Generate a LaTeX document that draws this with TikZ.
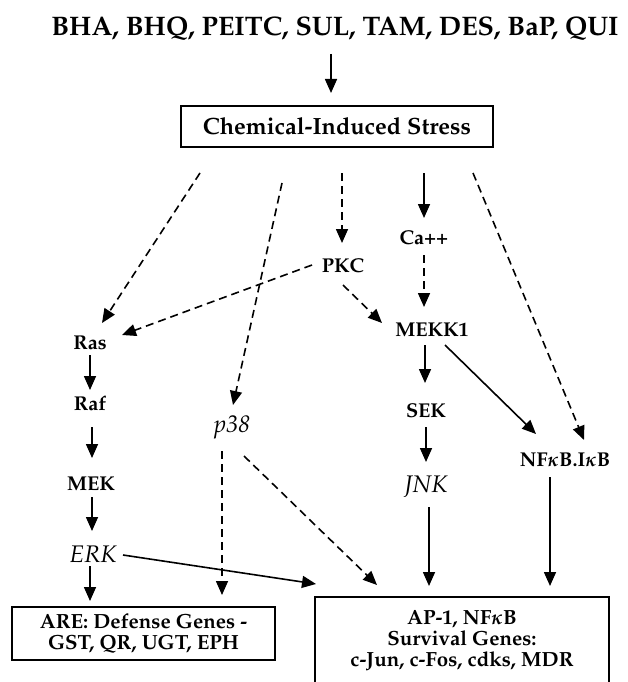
\documentclass[tikz,border=0pt]{standalone}
\usepackage[T1]{fontenc}
\usepackage{mathpazo}
\usepackage{bm}
\usetikzlibrary{arrows.meta,calc}
\newcommand{\kap}{\ensuremath{\bm{\kappa}}}
\begin{document}
\begin{tikzpicture}[x=1pt,y=-1pt,
  lbl/.style={font=\fontsize{20}{22}\selectfont\bfseries, inner sep=0pt},
  ilbl/.style={font=\fontsize{24}{26}\selectfont\itshape, inner sep=0pt},
  boxnode/.style={draw, line width=1.4pt, inner sep=0pt, align=center},
  arr/.style={line width=1.6pt, -{Triangle[length=14pt,width=12pt]}},
  darr/.style={arr, dash pattern=on 8pt off 5pt}
]
\useasboundingbox (0,0) rectangle (627,682);
% nodes
\node[font=\fontsize{26.8}{30}\selectfont\bfseries, inner sep=0pt] (T) at (335,29) {BHA, BHQ, PEITC, SUL, TAM, DES, BaP, QUI};
\node[boxnode, minimum width=312pt, minimum height=41pt, font=\fontsize{23.5}{26}\selectfont\bfseries] (C) at (337,126.5) {Chemical-Induced Stress};
\node[lbl] (Ca) at (424,238) {Ca++};
\node[lbl] (PKC) at (343,266) {PKC};
\node[lbl] (Ras) at (90,343) {Ras};
\node[lbl] (Raf) at (90,403) {Raf};
\node[lbl] (MEK) at (91,484) {MEK};
\node[ilbl] (ERK) at (93,554) {ERK};
\node[ilbl] (p38) at (232,427) {p38};
\node[lbl] (MEKK1) at (432,330) {MEKK1};
\node[lbl] (SEK) at (426,411) {SEK};
\node[ilbl] (JNK) at (426,487) {JNK};
\node[lbl] (NFkB) at (565,460) {NF\kap B.I\kap B};
\node[boxnode, minimum width=263pt, minimum height=53pt, font=\fontsize{20.5}{20}\selectfont\bfseries] (ARE) at (143.5,633.5) {ARE: Defense Genes -\\[1pt] GST, QR, UGT, EPH};
\node[boxnode, minimum width=294pt, minimum height=88pt, font=\fontsize{20.5}{21}\selectfont\bfseries] (AP1) at (462,641) {AP-1, NF\kap B\\ Survival Genes:\\ c-Jun, c-Fos, cdks, MDR};
% connectors
\draw[arr]  ($(T)+(-4,25)$) -- ($(C)+(-6,-33.5)$);
\draw[darr] ($(C)+(-137,46.5)$) -- ($(Ras)+(12,-20)$);
\draw[darr] ($(C)+(-55,56.5)$) -- ($(p38)+(1,-22)$);
\draw[darr] ($(C)+(5,46.5)$) -- ($(PKC)+(-1,-23)$);
\draw[arr]  ($(C)+(87,46.5)$) -- ($(Ca)+(0,-20)$);
\draw[darr] ($(C)+(136,46.5)$) -- ($(NFkB)+(19,-20)$);
\draw[darr] ($(Ca)+(0,17)$) -- ($(MEKK1)+(-8,-23)$);
\draw[darr] ($(PKC)+(-31,-1)$) -- ($(Ras)+(32,-8)$);
\draw[darr] ($(PKC)+(0,19)$) -- ($(MEKK1)+(-50,-7)$);
\draw[arr]  ($(Ras)+(0,12)$) -- ($(Raf)+(0,-13)$);
\draw[arr]  ($(Raf)+(2,24)$) -- ($(MEK)+(1,-26)$);
\draw[arr]  ($(MEK)+(1,13)$) -- ($(ERK)+(-1,-23)$);
\draw[arr]  ($(ERK)+(-3,12)$) -- ($(ARE)+(-53.5,-32.5)$);
\draw[arr]  ($(ERK)+(30,1)$) -- ($(AP1)+(-146,-57)$);
\draw[darr] ($(p38)+(-10,24)$) -- ($(ARE)+(78.5,-38.5)$);
\draw[darr] ($(p38)+(12,29)$) -- ($(AP1)+(-85,-56)$);
\draw[arr]  ($(MEKK1)+(-7,15)$) -- ($(SEK)+(-1,-28)$);
\draw[arr]  ($(MEKK1)+(13,15)$) -- ($(NFkB)+(-29,-26)$);
\draw[arr]  ($(SEK)+(0,16)$) -- ($(JNK)+(0,-25)$);
\draw[arr]  ($(JNK)+(3,20)$) -- ($(AP1)+(-33,-55)$);
\draw[arr]  ($(NFkB)+(-15,17)$) -- ($(AP1)+(88,-55)$);
\end{tikzpicture}
\end{document}
